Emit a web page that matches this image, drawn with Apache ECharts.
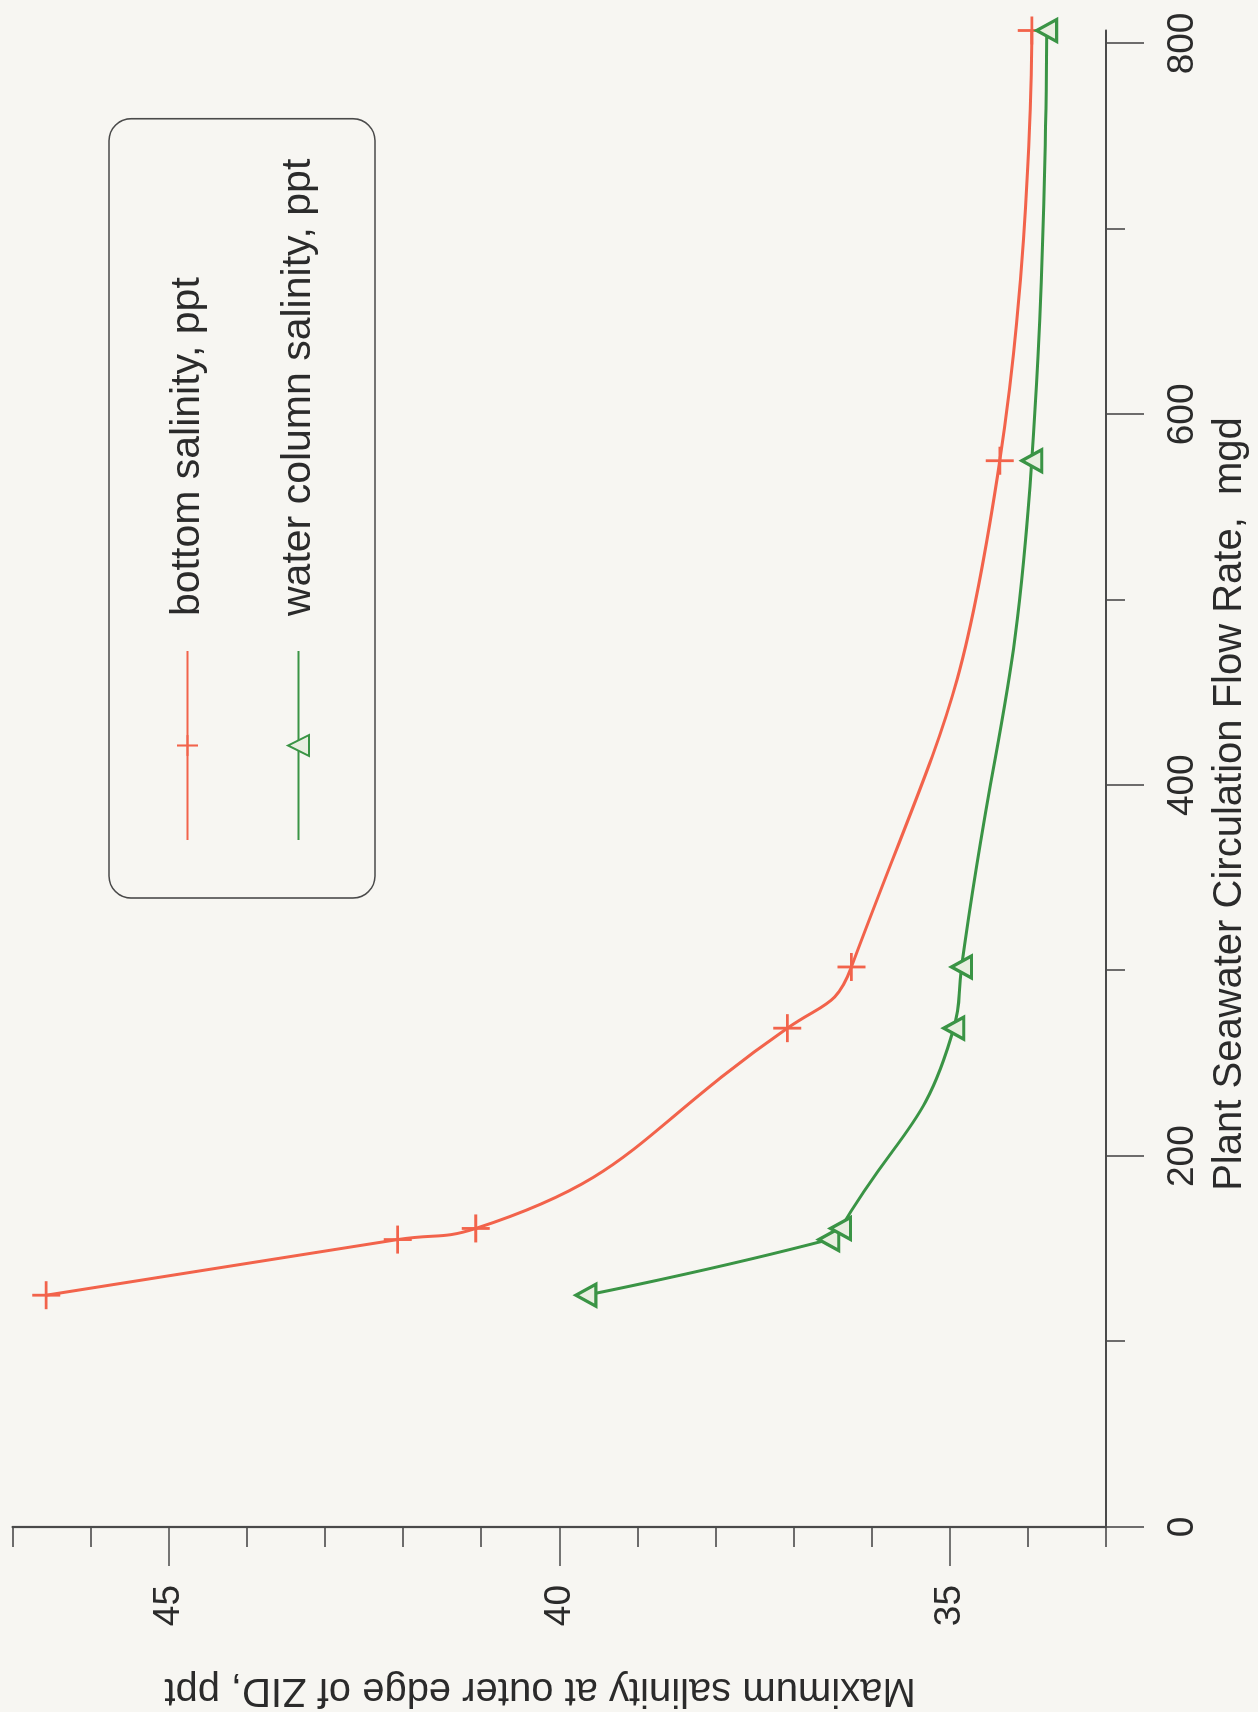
<!DOCTYPE html>
<html>
<head>
<meta charset="utf-8">
<title>Maximum salinity vs plant seawater circulation flow rate</title>
<script src="https://cdn.jsdelivr.net/npm/echarts@6/dist/echarts.min.js"></script>
<style>
  html, body { margin: 0; padding: 0; width: 1258px; height: 1712px; overflow: hidden; background: #f7f6f2; }
  /* The plot is laid out landscape and turned a quarter turn counter-clockwise onto the portrait page */
  #chart {
    position: absolute; left: 0; top: 0;
    width: 1712px; height: 1258px;
    transform-origin: 0 0;
    transform: translate(0, 1712px) rotate(-90deg);
  }
</style>
</head>
<body>
<div id="chart"></div>
<script>
// Plant seawater circulation flow rate, mgd
const flowRate = [125, 155, 161, 269, 302, 575, 807];
// Maximum salinity at outer edge of ZID, ppt
const bottomSalinity = [46.57, 42.07, 41.07, 37.08, 36.26, 34.36, 33.95];
const waterColumnSalinity = [39.66, 36.55, 36.40, 34.95, 34.85, 33.95, 33.76];

const seriesNames = ['bottom salinity, ppt', 'water column salinity, ppt'];

// Axis ticks
const flowMajorTicks = [0, 200, 400, 600, 800];
const flowMinorTicks = [100, 300, 500, 700];
const salinityMajorTicks = [35, 40, 45];
const salinityMinorTicks = [33, 34, 36, 37, 38, 39, 41, 42, 43, 44, 46, 47];

const FONT = '"Liberation Sans", Arial, Helvetica, sans-serif';
const AXIS_COLOR = '#4a4a4a';
const RED = '#f2634b';
const GREEN = '#3a9445';
const PLUS = 'path://M-1,-10 L1,-10 L1,-1 L10,-1 L10,1 L1,1 L1,10 L-1,10 L-1,1 L-10,1 L-10,-1 L-1,-1 Z';

const chart = echarts.init(document.getElementById('chart'), null, { renderer: 'canvas' });

const tickStyle = { color: AXIS_COLOR, width: 1.6 };

chart.setOption({
  animation: false,
  backgroundColor: '#f7f6f2',
  textStyle: { fontFamily: FONT },
  grid: { left: 185, top: 12.6, width: 1496.5, height: 1093.4, containLabel: false },
  xAxis: [
    {
      type: 'value', position: 'bottom', min: 0, max: 807,
      axisLine: { show: true, lineStyle: { color: AXIS_COLOR, width: 2.2 } },
      axisTick: { show: true, length: 38, customValues: flowMajorTicks, lineStyle: tickStyle },
      axisLabel: { show: true, customValues: flowMajorTicks, margin: 58, fontSize: 37, color: '#2b2b2b', fontFamily: FONT },
      splitLine: { show: false }
    },
    {
      type: 'value', position: 'bottom', min: 0, max: 807,
      axisLine: { show: false },
      axisTick: { show: true, length: 19, customValues: flowMinorTicks, lineStyle: tickStyle },
      axisLabel: { show: false },
      splitLine: { show: false }
    }
  ],
  yAxis: [
    {
      type: 'value', position: 'left', min: 33, max: 47,
      axisLine: { show: true, lineStyle: { color: AXIS_COLOR, width: 2.2 } },
      axisTick: { show: true, length: 39, customValues: salinityMajorTicks, lineStyle: tickStyle },
      axisLabel: { show: true, customValues: salinityMajorTicks, margin: 58, fontSize: 37, color: '#2b2b2b', fontFamily: FONT },
      splitLine: { show: false }
    },
    {
      type: 'value', position: 'left', min: 33, max: 47,
      axisLine: { show: false },
      axisTick: { show: true, length: 20, customValues: salinityMinorTicks, lineStyle: tickStyle },
      axisLabel: { show: false },
      splitLine: { show: false }
    }
  ],
  legend: {
    orient: 'vertical',
    left: 814, top: 109,
    padding: [58, 40, 56, 57],
    itemWidth: 189, itemHeight: 26, itemGap: 70,
    borderColor: '#4a4a4a', borderWidth: 1.6, borderRadius: 22,
    textStyle: { fontSize: 41, color: '#2b2b2b', fontFamily: FONT, lineHeight: 41, padding: [0, 0, 0, 30] },
    data: seriesNames
  },
  graphic: [
    {
      type: 'text', x: 908, y: 1230,
      style: { text: 'Plant Seawater Circulation Flow Rate,  mgd', font: '40px ' + FONT, fill: '#2b2b2b', textAlign: 'center', textVerticalAlign: 'middle' }
    },
    {
      type: 'text', x: 22, y: 540, rotation: Math.PI / 2,
      style: { text: 'Maximum salinity at outer edge of ZID, ppt', font: '40px ' + FONT, fill: '#2b2b2b', textAlign: 'center', textVerticalAlign: 'middle' }
    }
  ],
  series: [
    {
      name: seriesNames[0], type: 'line', xAxisIndex: 0, yAxisIndex: 0,
      data: flowRate.map((f, i) => [f, bottomSalinity[i]]),
      smooth: 0.5, clip: false,
      symbol: PLUS, symbolSize: 28,
      lineStyle: { color: RED, width: 3 },
      itemStyle: { color: RED },
      z: 3
    },
    {
      name: seriesNames[1], type: 'line', xAxisIndex: 0, yAxisIndex: 0,
      data: flowRate.map((f, i) => [f, waterColumnSalinity[i]]),
      smooth: 0.5, clip: false,
      symbol: 'triangle', symbolSize: [22, 20],
      lineStyle: { color: GREEN, width: 3 },
      itemStyle: { color: '#e9efe0', borderColor: GREEN, borderWidth: 3.2 },
      z: 4
    }
  ]
});
</script>
</body>
</html>
